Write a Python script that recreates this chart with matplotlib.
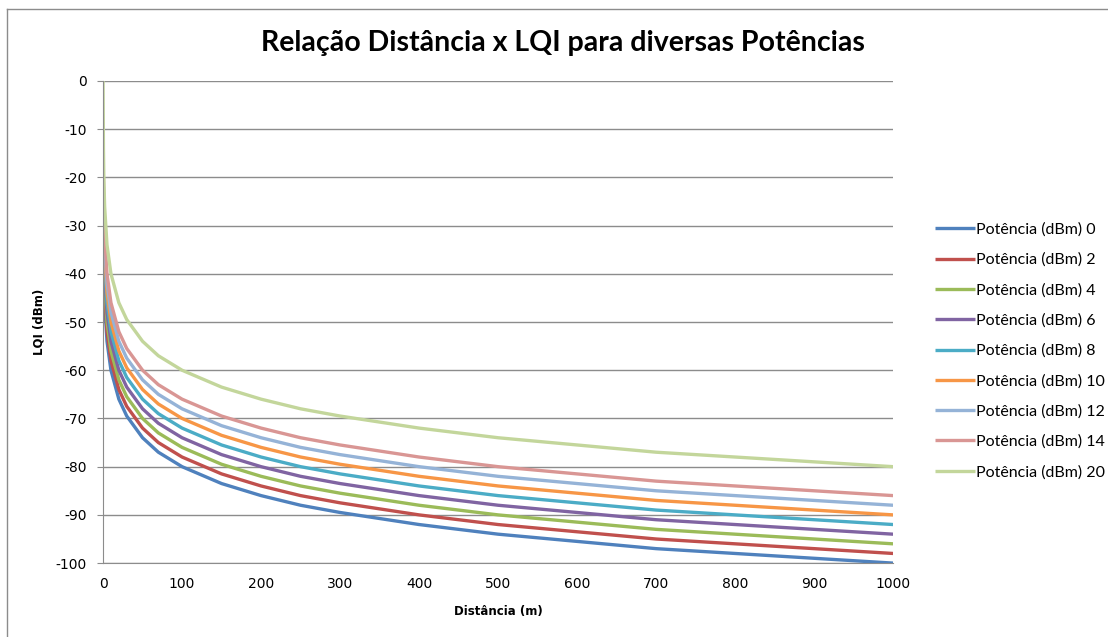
import matplotlib.pyplot as plt
from matplotlib.lines import Line2D

plt.rcParams["axes.unicode_minus"] = False

# distances (m)
dist = [0.5, 1, 2, 5, 10, 20, 30, 50, 70, 100, 150, 200, 250, 300, 400, 500, 600, 700, 800, 900, 1000]
dist_20 = [0] + dist

# LQI (dBm) per transmit power
lqi_0 = [-34, -40, -46, -54, -60, -66, -69.5, -74, -77, -80, -83.5, -86, -88, -89.5, -92, -94, -95.5, -97, -98, -99, -100]
lqi_2 = [-32, -38, -44, -52, -58, -64, -67.5, -72, -75, -78, -81.5, -84, -86, -87.5, -90, -92, -93.5, -95, -96, -97, -98]
lqi_4 = [-30, -36, -42, -50, -56, -62, -65.5, -70, -73, -76, -79.5, -82, -84, -85.5, -88, -90, -91.5, -93, -94, -95, -96]
lqi_6 = [-28, -34, -40, -48, -54, -60, -63.5, -68, -71, -74, -77.5, -80, -82, -83.5, -86, -88, -89.5, -91, -92, -93, -94]
lqi_8 = [-26, -32, -38, -46, -52, -58, -61.5, -66, -69, -72, -75.5, -78, -80, -81.5, -84, -86, -87.5, -89, -90, -91, -92]
lqi_10 = [-24, -30, -36, -44, -50, -56, -59.5, -64, -67, -70, -73.5, -76, -78, -79.5, -82, -84, -85.5, -87, -88, -89, -90]
lqi_12 = [-22, -28, -34, -42, -48, -54, -57.5, -62, -65, -68, -71.5, -74, -76, -77.5, -80, -82, -83.5, -85, -86, -87, -88]
lqi_14 = [-20, -26, -32, -40, -46, -52, -55.5, -60, -63, -66, -69.5, -72, -74, -75.5, -78, -80, -81.5, -83, -84, -85, -86]
lqi_20 = [0, -14, -20, -26, -34, -40, -46, -49.5, -54, -57, -60, -63.5, -66, -68, -69.5, -72, -74, -75.5, -77, -78, -79, -80]

powers = [0, 2, 4, 6, 8, 10, 12, 14, 20]
series = [lqi_0, lqi_2, lqi_4, lqi_6, lqi_8, lqi_10, lqi_12, lqi_14, lqi_20]
colors = ["#4F81BD", "#C0504D", "#9BBB59", "#8064A2", "#4BACC6",
          "#F79646", "#95B3D7", "#D99694", "#C3D69B"]

fig = plt.figure(figsize=(11.08, 6.37), dpi=100)
ax = fig.add_axes([0.093, 0.116, 0.713, 0.757])

for p, y, c in zip(powers, series, colors):
    x = dist_20 if p == 20 else dist
    ax.plot(x, y, color=c, lw=2.4, label="Potência (dBm) %d" % p, solid_capstyle="butt")

ax.set_xlim(0, 1000)
ax.set_ylim(-100, 0)
ax.set_xticks(range(0, 1001, 100))
ax.set_yticks(range(-100, 1, 10))
ax.yaxis.grid(True, color="#8c8c8c", lw=1)
ax.set_axisbelow(True)
for s in ["top", "right"]:
    ax.spines[s].set_visible(False)
for s in ["left", "bottom"]:
    ax.spines[s].set_color("#8c8c8c")
ax.tick_params(axis="y", length=4, color="#8c8c8c", labelsize=10, pad=8)
ax.tick_params(axis="x", length=0, labelsize=10, pad=10)

ax.set_xlabel("Distância (m)", fontsize=8.5, fontweight="bold", labelpad=10)
ax.set_ylabel("LQI (dBm)", fontsize=8.5, fontweight="bold", labelpad=7)

fig.text(0.508, 0.933, "Relação Distância x LQI para diversas Potências",
         ha="center", va="center", fontsize=20.5, fontweight="bold", family="Lato")

ax.legend(loc="center left", bbox_to_anchor=(1.035, 0.44), frameon=False,
          prop={"family": "Lato", "size": 11.5}, handlelength=2.5,
          handletextpad=0.05, labelspacing=1.0)

# chart area border (top and left edges visible)
fig.add_artist(Line2D([7 / 1108, 7 / 1108], [0, 1 - 9 / 637], color="#8c8c8c", lw=1))
fig.add_artist(Line2D([7 / 1108, 1], [1 - 9 / 637, 1 - 9 / 637], color="#8c8c8c", lw=1))

fig.savefig("out.png", dpi=100)
